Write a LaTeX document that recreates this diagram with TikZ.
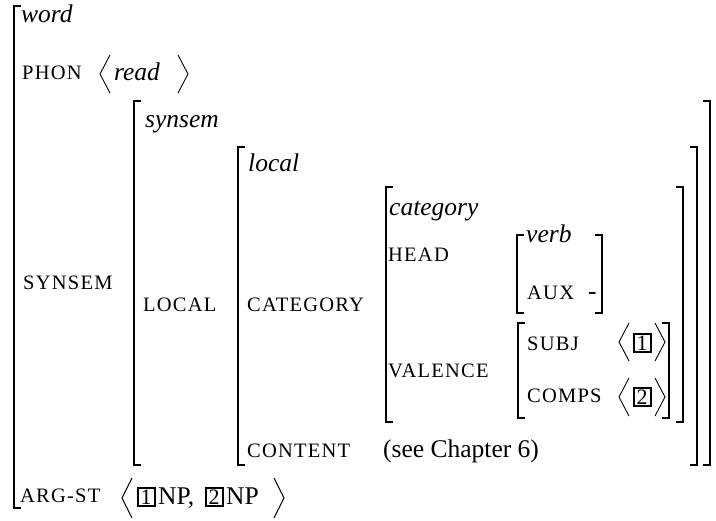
\documentclass[tikz,border=0pt]{standalone}
\usepackage{fontspec}
\setmainfont{Liberation Serif}
\begin{document}
\begin{tikzpicture}[x=1pt,y=-1pt,
  brk/.style={line width=1.4pt},
  ang/.style={line width=0.9pt},
  typ/.style={anchor=base west,inner sep=0pt,font=\fontsize{25.5}{28}\selectfont\itshape},
  attr/.style={anchor=base west,inner sep=0pt,font=\fontsize{20.5}{22}\selectfont\addfontfeature{LetterSpace=6}},
  val/.style={anchor=base west,inner sep=0pt,font=\fontsize{25.5}{28}\selectfont},
  tag/.style={draw,line width=2pt,minimum width=17pt,minimum height=18pt,inner sep=0pt,
    font=\fontsize{22}{22}\selectfont}]
\useasboundingbox (0,0) rectangle (716,521);
% square brackets: \lb{x}{top}{bottom}, \rb{x}{top}{bottom}
\newcommand\lb[3]{\draw[brk] (#1+7,#2) -- (#1,#2) -- (#1,#3) -- (#1+7,#3);}
\newcommand\rb[3]{\draw[brk] (#1-7,#2) -- (#1,#2) -- (#1,#3) -- (#1-7,#3);}
% angle brackets: \la{x}{top}{bottom}, \ra{x}{top}{bottom}
\newcommand\la[3]{\draw[ang] (#1+10,#2) -- (#1,{(#2+#3)/2}) -- (#1+10,#3);}
\newcommand\ra[3]{\draw[ang] (#1-10,#2) -- (#1,{(#2+#3)/2}) -- (#1-10,#3);}

% outer word structure
\lb{14}{6}{508}
\node[typ] (word) at (21,23) {word};
\node[attr] (phon) at (22,80) {PHON};
\la{100}{55}{93}
\node[typ] (read) at (114,81) {read};
\ra{188}{55}{93}

% synsem
\node[attr] (synsemA) at (23,290) {SYNSEM};
\lb{134}{101}{465}
\rb{710}{101}{465}
\node[typ] (synsem) at (145,128) {synsem};
\node[attr] (localA) at (143,312) {LOCAL};

% local
\lb{238}{147}{465}
\rb{697}{147}{465}
\node[typ] (local) at (248,172) {local};
\node[attr] (catA) at (247,312) {CATEGORY};
\node[attr] (contA) at (247,458) {CONTENT};
\node[val] (cont) at (383,458) {(see Chapter 6)};

% category
\lb{386}{187}{422}
\rb{683}{187}{422}
\node[typ] (cat) at (389,216) {category};
\node[attr] (headA) at (388,262) {HEAD};
\lb{517}{235}{313}
\rb{602}{235}{313}
\node[typ] (verb) at (526,243) {verb};
\node[attr] (auxA) at (527,300) {AUX};
\node[val] (aux) at (588,300) {-};
\node[attr] (valA) at (388,378) {VALENCE};
\lb{518}{323}{418}
\rb{669}{323}{418}
\node[attr] (subjA) at (527,351) {SUBJ};
\la{619}{323}{361}
\node[tag] (t1) at (642,343) {1};
\ra{665}{323}{361}
\node[attr] (compsA) at (527,403) {COMPS};
\la{619}{378}{416}
\node[tag] (t2) at (642,397) {2};
\ra{665}{378}{416}

% arg-st
\node[attr] (argA) at (20,503) {ARG-ST};
\la{122}{478}{518}
\node[tag] (a1) at (146,497) {1};
\node[val] (np1) at (158,505) {NP,};
\node[tag] (a2) at (214,497) {2};
\node[val] (np2) at (226,505) {NP};
\ra{284}{478}{518}
\end{tikzpicture}
\end{document}
